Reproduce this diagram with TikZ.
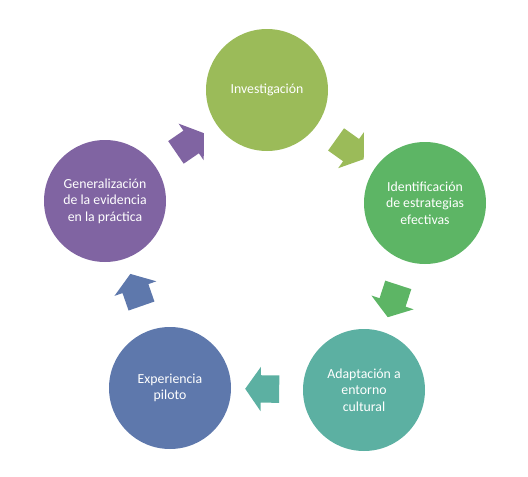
\documentclass[tikz,border=0pt]{standalone}
\usepackage{fontspec}
\setmainfont{Carlito}
\usetikzlibrary{shapes,arrows,calc}
\definecolor{olive}{HTML}{9BBB59}
\definecolor{leaf}{HTML}{5DB565}
\definecolor{teal2}{HTML}{5CB0A2}
\definecolor{steel}{HTML}{5E78AC}
\definecolor{plum}{HTML}{8064A2}
\tikzstyle{stage}=[circle,
                   minimum size=122pt,
                   inner sep=0pt,
                   text=white,
                   align=center,
                   font=\fontsize{13.8}{16.5}\selectfont]
\tikzstyle{blockarrow}=[single arrow,
                        minimum height=34pt,
                        inner xsep=0pt,
                        inner ysep=13.5pt,
                        single arrow head extend=8.5pt,
                        single arrow tip angle=110]

\begin{document}
\begin{tikzpicture}[x=1pt,y=-1pt]
    \useasboundingbox (0,0) rectangle (528,477);
    \node[stage, fill=olive] (inv) at (267,90) {Investigación};
    \node[stage, fill=leaf] (ident) at (425,203) {Identificación\\de estrategias\\efectivas};
    \node[stage, fill=teal2] (adapt) at (364,390) {Adaptación a\\entorno\\cultural};
    \node[stage, fill=steel] (exp) at (170,388) {Experiencia\\piloto};
    \node[stage, fill=plum] (gen) at (105,201) {Generalización\\de la evidencia\\en la práctica};
    % block arrows between the stages
    \foreach \a/\b/\c in {inv/ident/olive, ident/adapt/leaf, adapt/exp/teal2, exp/gen/steel, gen/inv/plum}
        \path let \p1=($(\b)-(\a)$), \n1={atan2(\y1,\x1)} in
            node[blockarrow, fill=\c, rotate=\n1] (arr-\a) at ($(\a)!0.5!(\b)$) {};
\end{tikzpicture}
\end{document}
